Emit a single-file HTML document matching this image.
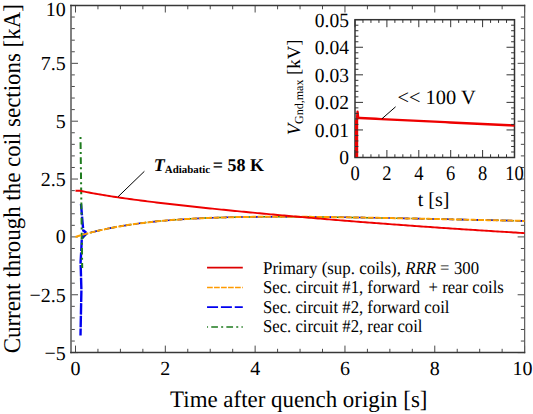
<!DOCTYPE html>
<html><head><meta charset="utf-8"><style>
html,body{margin:0;padding:0;background:#fff;}
svg{display:block;}
text{font-family:"Liberation Serif",serif;text-rendering:geometricPrecision;}
</style></head><body>
<svg width="533" height="414" viewBox="0 0 533 414">
<rect x="0" y="0" width="533" height="414" fill="#fff"/>
<path d="M75.50 352.6V345.60M75.50 5.5V12.50M97.95 352.6V348.80M97.95 5.5V9.30M120.41 352.6V348.80M120.41 5.5V9.30M142.87 352.6V348.80M142.87 5.5V9.30M165.32 352.6V345.60M165.32 5.5V12.50M187.77 352.6V348.80M187.77 5.5V9.30M210.23 352.6V348.80M210.23 5.5V9.30M232.69 352.6V348.80M232.69 5.5V9.30M255.14 352.6V345.60M255.14 5.5V12.50M277.59 352.6V348.80M277.59 5.5V9.30M300.05 352.6V348.80M300.05 5.5V9.30M322.50 352.6V348.80M322.50 5.5V9.30M344.96 352.6V345.60M344.96 5.5V12.50M367.41 352.6V348.80M367.41 5.5V9.30M389.87 352.6V348.80M389.87 5.5V9.30M412.32 352.6V348.80M412.32 5.5V9.30M434.78 352.6V345.60M434.78 5.5V12.50M457.23 352.6V348.80M457.23 5.5V9.30M479.69 352.6V348.80M479.69 5.5V9.30M502.14 352.6V348.80M502.14 5.5V9.30M524.60 352.6V345.60M524.60 5.5V12.50M71.0 352.62H78.00M524.65 352.62H517.65M71.0 341.04H74.80M524.65 341.04H520.85M71.0 329.47H74.80M524.65 329.47H520.85M71.0 317.90H74.80M524.65 317.90H520.85M71.0 306.33H74.80M524.65 306.33H520.85M71.0 294.76H78.00M524.65 294.76H517.65M71.0 283.19H74.80M524.65 283.19H520.85M71.0 271.61H74.80M524.65 271.61H520.85M71.0 260.04H74.80M524.65 260.04H520.85M71.0 248.47H74.80M524.65 248.47H520.85M71.0 236.90H78.00M524.65 236.90H517.65M71.0 225.33H74.80M524.65 225.33H520.85M71.0 213.76H74.80M524.65 213.76H520.85M71.0 202.19H74.80M524.65 202.19H520.85M71.0 190.61H74.80M524.65 190.61H520.85M71.0 179.04H78.00M524.65 179.04H517.65M71.0 167.47H74.80M524.65 167.47H520.85M71.0 155.90H74.80M524.65 155.90H520.85M71.0 144.33H74.80M524.65 144.33H520.85M71.0 132.76H74.80M524.65 132.76H520.85M71.0 121.19H78.00M524.65 121.19H517.65M71.0 109.61H74.80M524.65 109.61H520.85M71.0 98.04H74.80M524.65 98.04H520.85M71.0 86.47H74.80M524.65 86.47H520.85M71.0 74.90H74.80M524.65 74.90H520.85M71.0 63.33H78.00M524.65 63.33H517.65M71.0 51.76H74.80M524.65 51.76H520.85M71.0 40.18H74.80M524.65 40.18H520.85M71.0 28.61H74.80M524.65 28.61H520.85M71.0 17.04H74.80M524.65 17.04H520.85M71.0 5.47H78.00M524.65 5.47H517.65" stroke="#4a4a4a" stroke-width="1" fill="none"/>
<path d="M71.0 4.8V353.35" stroke="#6a6a6a" stroke-width="1.7" fill="none"/>
<path d="M524.65 4.8V353.35" stroke="#5a5a5a" stroke-width="1.2" fill="none"/>
<path d="M70.15 5.45H525.25M70.15 352.6H525.25" stroke="#383838" stroke-width="1.5" fill="none"/>
<text x="75.50" y="375.3" font-family="Liberation Serif" font-size="20" text-anchor="middle">0</text>
<text x="165.32" y="375.3" font-family="Liberation Serif" font-size="20" text-anchor="middle">2</text>
<text x="255.14" y="375.3" font-family="Liberation Serif" font-size="20" text-anchor="middle">4</text>
<text x="344.96" y="375.3" font-family="Liberation Serif" font-size="20" text-anchor="middle">6</text>
<text x="434.78" y="375.3" font-family="Liberation Serif" font-size="20" text-anchor="middle">8</text>
<text x="522.40" y="375.3" font-family="Liberation Serif" font-size="20" text-anchor="middle">10</text>
<text x="65.8" y="16.0" font-family="Liberation Serif" font-size="20" text-anchor="end">10</text>
<text x="65.8" y="70.15" font-family="Liberation Serif" font-size="20" text-anchor="end">7.5</text>
<text x="65.8" y="128.05" font-family="Liberation Serif" font-size="20" text-anchor="end">5</text>
<text x="65.8" y="185.9" font-family="Liberation Serif" font-size="20" text-anchor="end">2.5</text>
<text x="65.8" y="243.2" font-family="Liberation Serif" font-size="20" text-anchor="end">0</text>
<text x="65.8" y="301.6" font-family="Liberation Serif" font-size="20" text-anchor="end">−2.5</text>
<text x="65.8" y="359.7" font-family="Liberation Serif" font-size="20" text-anchor="end">−5</text>
<text x="170.1" y="406.6" font-family="Liberation Serif" font-size="23.6" textLength="257.36" lengthAdjust="spacingAndGlyphs">Time after quench origin [s]</text>
<text transform="translate(20.4,353.3) rotate(-90)" x="0" y="0" font-family="Liberation Serif" font-size="24" textLength="349.15" lengthAdjust="spacingAndGlyphs">Current through the coil sections [kA]</text>
<polyline points="82.6,238.5 86.7,233.9 87.18,233.52 90.11,232.74 93.05,231.99 95.98,231.26 98.92,230.57 101.86,229.90 104.79,229.26 107.73,228.64 110.66,228.05 113.60,227.48 116.53,226.94 119.47,226.41 122.41,225.91 125.34,225.43 128.28,224.97 131.21,224.53 134.15,224.10 137.08,223.70 140.02,223.31 142.96,222.94 145.89,222.58 148.83,222.24 151.76,221.91 154.70,221.60 157.63,221.31 160.57,221.02 163.51,220.75 166.44,220.49 169.38,220.25 172.31,220.01 175.25,219.79 178.18,219.58 181.12,219.38 184.06,219.18 186.99,219.00 189.93,218.83 192.86,218.67 195.80,218.51 198.73,218.37 201.67,218.23 204.61,218.10 207.54,217.97 210.48,217.86 213.41,217.75 216.35,217.65 219.28,217.56 222.22,217.47 225.16,217.39 228.09,217.31 231.03,217.24 233.96,217.17 236.90,217.11 239.83,217.06 242.77,217.01 245.71,216.96 248.64,216.92 251.58,216.89 254.51,216.86 257.45,216.83 260.38,216.80 263.32,216.78 266.26,216.77 269.19,216.75 272.13,216.74 275.06,216.74 278.00,216.74 280.93,216.74 283.87,216.74 286.81,216.74 289.74,216.75 292.68,216.76 295.61,216.78 298.55,216.79 301.48,216.81 304.42,216.83 307.36,216.85 310.29,216.88 313.23,216.90 316.16,216.93 319.10,216.96 322.03,216.99 324.97,217.02 327.91,217.06 330.84,217.10 333.78,217.13 336.71,217.17 339.65,217.21 342.58,217.26 345.52,217.30 348.46,217.34 351.39,217.39 354.33,217.43 357.26,217.48 360.20,217.53 363.13,217.58 366.07,217.63 369.01,217.68 371.94,217.73 374.88,217.79 377.81,217.84 380.75,217.89 383.69,217.95 386.62,218.01 389.56,218.06 392.49,218.12 395.43,218.18 398.36,218.23 401.30,218.29 404.24,218.35 407.17,218.41 410.11,218.47 413.04,218.53 415.98,218.59 418.91,218.65 421.85,218.71 424.79,218.77 427.72,218.83 430.66,218.90 433.59,218.96 436.53,219.02 439.46,219.08 442.40,219.15 445.34,219.21 448.27,219.27 451.21,219.34 454.14,219.40 457.08,219.46 460.01,219.53 462.95,219.59 465.89,219.65 468.82,219.72 471.76,219.78 474.69,219.85 477.63,219.91 480.56,219.97 483.50,220.04 486.44,220.10 489.37,220.17 492.31,220.23 495.24,220.29 498.18,220.36 501.11,220.42 504.05,220.48 506.99,220.55 509.92,220.61 512.86,220.68 515.79,220.74 518.73,220.80 521.66,220.87 524.60,220.93" stroke="#1e7b1e" stroke-width="1.5" fill="none" stroke-dasharray="6.7 3.2 2 3.2"/>
<polyline points="82.5,237 86.7,233.9 87.18,233.52 90.11,232.74 93.05,231.99 95.98,231.26 98.92,230.57 101.86,229.90 104.79,229.26 107.73,228.64 110.66,228.05 113.60,227.48 116.53,226.94 119.47,226.41 122.41,225.91 125.34,225.43 128.28,224.97 131.21,224.53 134.15,224.10 137.08,223.70 140.02,223.31 142.96,222.94 145.89,222.58 148.83,222.24 151.76,221.91 154.70,221.60 157.63,221.31 160.57,221.02 163.51,220.75 166.44,220.49 169.38,220.25 172.31,220.01 175.25,219.79 178.18,219.58 181.12,219.38 184.06,219.18 186.99,219.00 189.93,218.83 192.86,218.67 195.80,218.51 198.73,218.37 201.67,218.23 204.61,218.10 207.54,217.97 210.48,217.86 213.41,217.75 216.35,217.65 219.28,217.56 222.22,217.47 225.16,217.39 228.09,217.31 231.03,217.24 233.96,217.17 236.90,217.11 239.83,217.06 242.77,217.01 245.71,216.96 248.64,216.92 251.58,216.89 254.51,216.86 257.45,216.83 260.38,216.80 263.32,216.78 266.26,216.77 269.19,216.75 272.13,216.74 275.06,216.74 278.00,216.74 280.93,216.74 283.87,216.74 286.81,216.74 289.74,216.75 292.68,216.76 295.61,216.78 298.55,216.79 301.48,216.81 304.42,216.83 307.36,216.85 310.29,216.88 313.23,216.90 316.16,216.93 319.10,216.96 322.03,216.99 324.97,217.02 327.91,217.06 330.84,217.10 333.78,217.13 336.71,217.17 339.65,217.21 342.58,217.26 345.52,217.30 348.46,217.34 351.39,217.39 354.33,217.43 357.26,217.48 360.20,217.53 363.13,217.58 366.07,217.63 369.01,217.68 371.94,217.73 374.88,217.79 377.81,217.84 380.75,217.89 383.69,217.95 386.62,218.01 389.56,218.06 392.49,218.12 395.43,218.18 398.36,218.23 401.30,218.29 404.24,218.35 407.17,218.41 410.11,218.47 413.04,218.53 415.98,218.59 418.91,218.65 421.85,218.71 424.79,218.77 427.72,218.83 430.66,218.90 433.59,218.96 436.53,219.02 439.46,219.08 442.40,219.15 445.34,219.21 448.27,219.27 451.21,219.34 454.14,219.40 457.08,219.46 460.01,219.53 462.95,219.59 465.89,219.65 468.82,219.72 471.76,219.78 474.69,219.85 477.63,219.91 480.56,219.97 483.50,220.04 486.44,220.10 489.37,220.17 492.31,220.23 495.24,220.29 498.18,220.36 501.11,220.42 504.05,220.48 506.99,220.55 509.92,220.61 512.86,220.68 515.79,220.74 518.73,220.80 521.66,220.87 524.60,220.93" stroke="#0000f0" stroke-width="1.6" fill="none" stroke-dasharray="11 3.7" stroke-dashoffset="5.17"/>
<polyline points="81,204 82.5,222 83.3,230.6 85.6,232 81.8,238.4 81.3,250 80.6,262 81.4,290 80.5,335.5" stroke="#0000f0" stroke-width="2.4" fill="none" stroke-dasharray="11.5 1.2" stroke-linejoin="round"/>
<polyline points="80.5,137 81.8,238 82.2,268" stroke="#1e7b1e" stroke-width="2.0" fill="none" stroke-dasharray="6.7 3.2 2 3.2" stroke-dashoffset="9.9"/>
<polyline points="75.50,236.95 78.32,236.07 81.15,235.22 83.97,234.41 86.80,233.62 89.62,232.87 92.45,232.14 95.27,231.44 98.10,230.76 100.92,230.11 103.75,229.48 106.57,228.88 109.39,228.30 112.22,227.75 115.04,227.21 117.87,226.70 120.69,226.20 123.52,225.73 126.34,225.27 129.17,224.83 131.99,224.41 134.82,224.01 137.64,223.62 140.46,223.25 143.29,222.90 146.11,222.55 148.94,222.23 151.76,221.91 154.59,221.61 157.41,221.33 160.24,221.05 163.06,220.79 165.88,220.54 168.71,220.30 171.53,220.07 174.36,219.86 177.18,219.65 180.01,219.45 182.83,219.26 185.66,219.08 188.48,218.91 191.31,218.75 194.13,218.60 196.95,218.45 199.78,218.32 202.60,218.19 205.43,218.06 208.25,217.95 211.08,217.84 213.90,217.73 216.73,217.64 219.55,217.55 222.38,217.46 225.20,217.38 228.02,217.31 230.85,217.24 233.67,217.18 236.50,217.12 239.32,217.07 242.15,217.02 244.97,216.97 247.80,216.93 250.62,216.90 253.45,216.87 256.27,216.84 259.09,216.81 261.92,216.79 264.74,216.78 267.57,216.76 270.39,216.75 273.22,216.74 276.04,216.74 278.87,216.73 281.69,216.74 284.52,216.74 287.34,216.74 290.16,216.75 292.99,216.76 295.81,216.78 298.64,216.79 301.46,216.81 304.29,216.83 307.11,216.85 309.94,216.87 312.76,216.90 315.58,216.92 318.41,216.95 321.23,216.98 324.06,217.01 326.88,217.05 329.71,217.08 332.53,217.12 335.36,217.15 338.18,217.19 341.01,217.23 343.83,217.27 346.65,217.32 349.48,217.36 352.30,217.40 355.13,217.45 357.95,217.49 360.78,217.54 363.60,217.59 366.43,217.64 369.25,217.69 372.08,217.74 374.90,217.79 377.72,217.84 380.55,217.89 383.37,217.94 386.20,218.00 389.02,218.05 391.85,218.11 394.67,218.16 397.50,218.22 400.32,218.27 403.15,218.33 405.97,218.39 408.79,218.44 411.62,218.50 414.44,218.56 417.27,218.62 420.09,218.68 422.92,218.73 425.74,218.79 428.57,218.85 431.39,218.91 434.22,218.97 437.04,219.03 439.86,219.09 442.69,219.15 445.51,219.21 448.34,219.27 451.16,219.33 453.99,219.40 456.81,219.46 459.64,219.52 462.46,219.58 465.28,219.64 468.11,219.70 470.93,219.76 473.76,219.83 476.58,219.89 479.41,219.95 482.23,220.01 485.06,220.07 487.88,220.13 490.71,220.19 493.53,220.26 496.35,220.32 499.18,220.38 502.00,220.44 504.83,220.50 507.65,220.56 510.48,220.62 513.30,220.69 516.13,220.75 518.95,220.81 521.78,220.87 524.60,220.93" stroke="#fda000" stroke-width="2.0" fill="none" stroke-dasharray="6 1.35"/>
<polyline points="75.50,190.75 77.75,190.75 79.99,190.75 82.24,191.22 84.48,191.67 86.73,192.10 88.97,192.53 91.22,192.95 93.46,193.36 95.71,193.76 97.95,194.15 100.20,194.54 102.45,194.92 104.69,195.29 106.94,195.65 109.18,196.01 111.43,196.36 113.67,196.70 115.92,197.04 118.16,197.37 120.41,197.70 122.66,198.03 124.90,198.35 127.15,198.66 129.39,198.97 131.64,199.28 133.88,199.58 136.13,199.88 138.37,200.18 140.62,200.47 142.87,200.76 145.11,201.05 147.36,201.33 149.60,201.62 151.85,201.89 154.09,202.17 156.34,202.44 158.58,202.72 160.83,202.98 163.07,203.25 165.32,203.52 167.57,203.78 169.81,204.04 172.06,204.30 174.30,204.55 176.55,204.81 178.79,205.06 181.04,205.31 183.28,205.56 185.53,205.81 187.77,206.06 190.02,206.30 192.27,206.55 194.51,206.79 196.76,207.03 199.00,207.27 201.25,207.51 203.49,207.74 205.74,207.98 207.98,208.21 210.23,208.44 212.48,208.68 214.72,208.91 216.97,209.14 219.21,209.36 221.46,209.59 223.70,209.82 225.95,210.04 228.19,210.27 230.44,210.49 232.69,210.71 234.93,210.93 237.18,211.15 239.42,211.37 241.67,211.59 243.91,211.80 246.16,212.02 248.40,212.23 250.65,212.45 252.89,212.66 255.14,212.87 257.39,213.09 259.63,213.30 261.88,213.50 264.12,213.71 266.37,213.92 268.61,214.13 270.86,214.33 273.10,214.54 275.35,214.74 277.59,214.95 279.84,215.15 282.09,215.35 284.33,215.55 286.58,215.75 288.82,215.95 291.07,216.15 293.31,216.35 295.56,216.54 297.80,216.74 300.05,216.94 302.30,217.13 304.54,217.32 306.79,217.52 309.03,217.71 311.28,217.90 313.52,218.09 315.77,218.28 318.01,218.47 320.26,218.66 322.50,218.85 324.75,219.04 327.00,219.22 329.24,219.41 331.49,219.59 333.73,219.78 335.98,219.96 338.22,220.14 340.47,220.33 342.71,220.51 344.96,220.69 347.21,220.87 349.45,221.05 351.70,221.23 353.94,221.40 356.19,221.58 358.43,221.76 360.68,221.93 362.92,222.11 365.17,222.28 367.41,222.46 369.66,222.63 371.91,222.80 374.15,222.97 376.40,223.15 378.64,223.32 380.89,223.49 383.13,223.65 385.38,223.82 387.62,223.99 389.87,224.16 392.12,224.33 394.36,224.49 396.61,224.66 398.85,224.82 401.10,224.99 403.34,225.15 405.59,225.31 407.83,225.47 410.08,225.64 412.32,225.80 414.57,225.96 416.82,226.12 419.06,226.28 421.31,226.43 423.55,226.59 425.80,226.75 428.04,226.91 430.29,227.06 432.53,227.22 434.78,227.37 437.03,227.53 439.27,227.68 441.52,227.83 443.76,227.99 446.01,228.14 448.25,228.29 450.50,228.44 452.74,228.59 454.99,228.74 457.23,228.89 459.48,229.04 461.73,229.19 463.97,229.33 466.22,229.48 468.46,229.63 470.71,229.77 472.95,229.92 475.20,230.06 477.44,230.21 479.69,230.35 481.94,230.49 484.18,230.64 486.43,230.78 488.67,230.92 490.92,231.06 493.16,231.20 495.41,231.34 497.65,231.48 499.90,231.62 502.14,231.76 504.39,231.89 506.64,232.03 508.88,232.17 511.13,232.30 513.37,232.44 515.62,232.57 517.86,232.71 520.11,232.84 522.35,232.98 524.60,233.11" stroke="#ee0000" stroke-width="1.9" fill="none"/>
<line x1="118" y1="196.8" x2="144.4" y2="171.3" stroke="#000" stroke-width="1"/>
<text x="153.8" y="171.3" font-family="Liberation Serif" font-weight="bold" font-size="18"><tspan font-style="italic">T</tspan><tspan font-size="10.9" dy="1.2">Adiabatic</tspan><tspan dy="-1.2" dx="2.5">= 58 K</tspan></text>
<line x1="207.05" y1="267.65" x2="242.8" y2="267.65" stroke="#dd0000" stroke-width="1.6"/>
<line x1="207.05" y1="287.5" x2="242.8" y2="287.5" stroke="#ff9a00" stroke-width="1.7" stroke-dasharray="5.7 1.3"/>
<line x1="207.05" y1="307.1" x2="242.8" y2="307.1" stroke="#0000f0" stroke-width="1.9" stroke-dasharray="11 2.85"/>
<line x1="207.05" y1="327" x2="242.8" y2="327" stroke="#1e7b1e" stroke-width="1.7" stroke-dasharray="6.7 3.2 2 3.2" stroke-dashoffset="10.9"/>
<text x="263.0" y="273.6" font-family="Liberation Serif" font-size="18" textLength="173.16" lengthAdjust="spacingAndGlyphs">Primary (sup. coils), <tspan font-style="italic">RRR</tspan></text>
<text x="439.9" y="273.4" font-size="16.7">=</text>
<text x="454.0" y="273.6" font-family="Liberation Serif" font-size="18" textLength="25.05" lengthAdjust="spacingAndGlyphs">300</text>
<text x="263.0" y="293.1" font-family="Liberation Serif" font-size="18" xml:space="preserve" textLength="240.80" lengthAdjust="spacingAndGlyphs">Sec. circuit #1, forward  + rear coils</text>
<text x="263.0" y="312.7" font-family="Liberation Serif" font-size="18" textLength="186.42" lengthAdjust="spacingAndGlyphs">Sec. circuit #2, forward coil</text>
<text x="263.0" y="332.3" font-family="Liberation Serif" font-size="18" textLength="159.50" lengthAdjust="spacingAndGlyphs">Sec. circuit #2, rear coil</text>
<rect x="355.0" y="19.7" width="159.5" height="137.80" fill="#fff" stroke="#333" stroke-width="1.5"/>
<polyline points="356.60,157.5 356.60,124.43 357.55,111.75 358.19,117.97 359.79,118.05 365.12,118.30 370.45,118.56 375.79,118.82 381.12,119.08 386.46,119.34 391.80,119.59 397.13,119.85 402.46,120.11 407.80,120.37 413.13,120.63 418.47,120.88 423.81,121.14 429.14,121.40 434.48,121.66 439.81,121.92 445.14,122.17 450.48,122.43 455.81,122.69 461.15,122.95 466.49,123.21 471.82,123.47 477.15,123.72 482.49,123.98 487.82,124.24 493.16,124.50 498.50,124.76 503.83,125.01 509.17,125.27 514.50,125.53" stroke="#ee0000" stroke-width="2.4" fill="none" stroke-linejoin="round"/>
<line x1="356.60" y1="157.5" x2="356.60" y2="120.29" stroke="#ee0000" stroke-width="3.2"/>
<path d="M355.00 157.5V150.00M355.00 19.7V27.20M362.98 157.5V154.30M362.98 19.7V22.90M370.95 157.5V154.30M370.95 19.7V22.90M378.93 157.5V154.30M378.93 19.7V22.90M386.90 157.5V150.00M386.90 19.7V27.20M394.88 157.5V154.30M394.88 19.7V22.90M402.85 157.5V154.30M402.85 19.7V22.90M410.82 157.5V154.30M410.82 19.7V22.90M418.80 157.5V150.00M418.80 19.7V27.20M426.77 157.5V154.30M426.77 19.7V22.90M434.75 157.5V154.30M434.75 19.7V22.90M442.73 157.5V154.30M442.73 19.7V22.90M450.70 157.5V150.00M450.70 19.7V27.20M458.68 157.5V154.30M458.68 19.7V22.90M466.65 157.5V154.30M466.65 19.7V22.90M474.62 157.5V154.30M474.62 19.7V22.90M482.60 157.5V150.00M482.60 19.7V27.20M490.57 157.5V154.30M490.57 19.7V22.90M498.55 157.5V154.30M498.55 19.7V22.90M506.52 157.5V154.30M506.52 19.7V22.90M514.50 157.5V150.00M514.50 19.7V27.20M355.0 157.50H363.00M514.5 157.50H506.50M355.0 151.99H358.40M514.5 151.99H511.10M355.0 146.48H358.40M514.5 146.48H511.10M355.0 140.96H358.40M514.5 140.96H511.10M355.0 135.45H358.40M514.5 135.45H511.10M355.0 129.94H363.00M514.5 129.94H506.50M355.0 124.43H358.40M514.5 124.43H511.10M355.0 118.92H358.40M514.5 118.92H511.10M355.0 113.40H358.40M514.5 113.40H511.10M355.0 107.89H358.40M514.5 107.89H511.10M355.0 102.38H363.00M514.5 102.38H506.50M355.0 96.87H358.40M514.5 96.87H511.10M355.0 91.36H358.40M514.5 91.36H511.10M355.0 85.84H358.40M514.5 85.84H511.10M355.0 80.33H358.40M514.5 80.33H511.10M355.0 74.82H363.00M514.5 74.82H506.50M355.0 69.31H358.40M514.5 69.31H511.10M355.0 63.80H358.40M514.5 63.80H511.10M355.0 58.28H358.40M514.5 58.28H511.10M355.0 52.77H358.40M514.5 52.77H511.10M355.0 47.26H363.00M514.5 47.26H506.50M355.0 41.75H358.40M514.5 41.75H511.10M355.0 36.24H358.40M514.5 36.24H511.10M355.0 30.72H358.40M514.5 30.72H511.10M355.0 25.21H358.40M514.5 25.21H511.10M355.0 19.70H363.00M514.5 19.70H506.50" stroke="#333" stroke-width="1" fill="none"/>
<text x="355.00" y="179.6" font-family="Liberation Serif" font-size="20.7" text-anchor="middle" textLength="9.25" lengthAdjust="spacingAndGlyphs">0</text>
<text x="386.90" y="179.6" font-family="Liberation Serif" font-size="20.7" text-anchor="middle" textLength="9.25" lengthAdjust="spacingAndGlyphs">2</text>
<text x="418.80" y="179.6" font-family="Liberation Serif" font-size="20.7" text-anchor="middle" textLength="9.25" lengthAdjust="spacingAndGlyphs">4</text>
<text x="450.70" y="179.6" font-family="Liberation Serif" font-size="20.7" text-anchor="middle" textLength="9.25" lengthAdjust="spacingAndGlyphs">6</text>
<text x="482.60" y="179.6" font-family="Liberation Serif" font-size="20.7" text-anchor="middle" textLength="9.25" lengthAdjust="spacingAndGlyphs">8</text>
<text x="514.50" y="179.6" font-family="Liberation Serif" font-size="20.7" text-anchor="middle" textLength="18.50" lengthAdjust="spacingAndGlyphs">10</text>
<text x="348.9" y="163.70" font-family="Liberation Serif" font-size="20.1" text-anchor="end" textLength="9.75" lengthAdjust="spacingAndGlyphs">0</text>
<text x="348.9" y="137.04" font-family="Liberation Serif" font-size="20.1" text-anchor="end" textLength="34.12" lengthAdjust="spacingAndGlyphs">0.01</text>
<text x="348.9" y="109.48" font-family="Liberation Serif" font-size="20.1" text-anchor="end" textLength="34.12" lengthAdjust="spacingAndGlyphs">0.02</text>
<text x="348.9" y="81.92" font-family="Liberation Serif" font-size="20.1" text-anchor="end" textLength="34.12" lengthAdjust="spacingAndGlyphs">0.03</text>
<text x="348.9" y="54.36" font-family="Liberation Serif" font-size="20.1" text-anchor="end" textLength="34.12" lengthAdjust="spacingAndGlyphs">0.04</text>
<text x="348.9" y="26.80" font-family="Liberation Serif" font-size="20.1" text-anchor="end" textLength="34.12" lengthAdjust="spacingAndGlyphs">0.05</text>
<text x="433.6" y="206" font-family="Liberation Serif" font-size="20" text-anchor="middle">t [s]</text>
<text transform="translate(300.2,135.3) rotate(-90)" font-family="Liberation Serif" font-size="18.7"><tspan font-style="italic">V</tspan><tspan font-size="12" dy="3">Gnd,max</tspan><tspan dy="-3"> [kV]</tspan></text>
<line x1="381.9" y1="118.8" x2="395.6" y2="106.8" stroke="#000" stroke-width="1"/>
<text x="397.5" y="104.4" font-family="Liberation Serif" font-size="20.4" xml:space="preserve">&lt;&lt; 100 V</text>
</svg>
</body></html>
